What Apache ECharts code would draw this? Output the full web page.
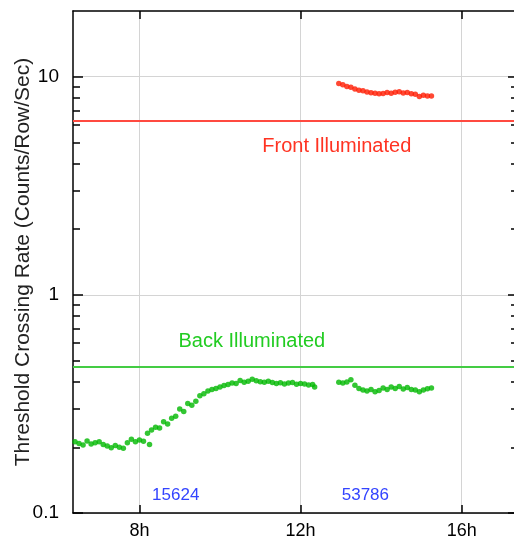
<!DOCTYPE html>
<html lang="en">
<head>
    <meta charset="UTF-8">
    <title>Threshold Crossing Rate</title>
    <script src="https://cdn.jsdelivr.net/npm/echarts@6.0.0/dist/echarts.min.js"></script>
</head>
<body style="margin:0;background:#fff;">
<div id="chart-container" style="width: 514px;height: 541px;"></div>
</body>
<script type="text/javascript">
    // morning run (back illuminated chip), hours of day
    var backTimes1 = [6.4, 6.5, 6.6, 6.7, 6.8, 6.9, 7.0, 7.1, 7.2, 7.3, 7.4, 7.5, 7.6, 7.7, 7.8, 7.9, 8.0, 8.1,
        8.2, 8.25, 8.3, 8.4, 8.5, 8.6, 8.7, 8.8, 8.9, 9.0, 9.1, 9.2, 9.3, 9.4, 9.5, 9.6, 9.7, 9.8, 9.9,
        10.0, 10.1, 10.2, 10.3, 10.4, 10.5, 10.6, 10.7, 10.8, 10.9, 11.0, 11.1, 11.2, 11.3, 11.4, 11.5,
        11.6, 11.7, 11.8, 11.9, 12.0, 12.1, 12.2, 12.3, 12.35];
    var backRates1 = [0.212, 0.208, 0.205, 0.214, 0.207, 0.210, 0.212, 0.206, 0.203, 0.199, 0.204, 0.200, 0.198, 0.210, 0.218, 0.212, 0.216, 0.213,
        0.232, 0.206, 0.240, 0.247, 0.245, 0.262, 0.256, 0.272, 0.278, 0.300, 0.292, 0.318, 0.312, 0.325, 0.345, 0.352, 0.362, 0.368, 0.372,
        0.378, 0.384, 0.388, 0.394, 0.392, 0.405, 0.398, 0.402, 0.410, 0.404, 0.400, 0.397, 0.402, 0.396, 0.392, 0.395,
        0.390, 0.394, 0.396, 0.389, 0.392, 0.390, 0.386, 0.388, 0.378];

    // afternoon run, both chips
    var lateTimes = [12.95, 13.05, 13.15, 13.25, 13.35, 13.45, 13.55, 13.65, 13.75, 13.85, 13.95, 14.05,
        14.15, 14.25, 14.35, 14.45, 14.55, 14.65, 14.75, 14.85, 14.95, 15.05, 15.15, 15.25];
    var backRates2 = [0.398, 0.394, 0.399, 0.408, 0.385, 0.372, 0.366, 0.362, 0.368, 0.360, 0.364, 0.374,
        0.368, 0.378, 0.372, 0.380, 0.370, 0.376, 0.368, 0.366, 0.360, 0.366, 0.371, 0.374];
    var frontRates = [9.30, 9.18, 9.02, 8.95, 8.78, 8.66, 8.62, 8.50, 8.44, 8.40, 8.34, 8.38,
        8.46, 8.40, 8.48, 8.52, 8.42, 8.46, 8.36, 8.30, 8.12, 8.22, 8.16, 8.16];

    // reference levels
    var frontLevel = 6.25;
    var backLevel = 0.47;

    var hourTicks = [8, 12, 16];
    var decadeTicks = [0.1, 1, 10];
    var minorTicks = [0.2, 0.3, 0.4, 0.5, 0.6, 0.7, 0.8, 0.9, 2, 3, 4, 5, 6, 7, 8, 9];

    function zip(xs, ys) {
        return xs.map(function (x, i) { return [x, ys[i]]; });
    }

    var container = document.getElementById('chart-container');
    var myChart = echarts.init(container);

    var font = 'Liberation Sans, Arial, sans-serif';
    var xMin = 6.35, xMax = 17.3, yMin = 0.1, yMax = 20;

    function note(text, x, y, color, size) {
        return {
            coord: [x, y],
            symbol: 'circle',
            symbolSize: 0,
            label: {
                show: true, position: 'inside', formatter: text,
                color: color, fontSize: size, fontFamily: font
            }
        };
    }

    var option = {
        animation: false,
        backgroundColor: '#fff',
        grid: {left: 73, right: 0, top: 11, bottom: 28},
        xAxis: [
            {
                type: 'value', min: xMin, max: xMax, position: 'bottom',
                axisLine: {show: true, onZero: false, lineStyle: {color: '#000', width: 1.5}},
                axisTick: {show: true, inside: true, length: 8, customValues: hourTicks,
                    lineStyle: {color: '#000', width: 1.5}},
                axisLabel: {customValues: hourTicks, formatter: '{value}h', color: '#000',
                    fontSize: 18, fontFamily: font, margin: 9},
                splitLine: {show: true, lineStyle: {color: '#d4d4d4', width: 1}}
            },
            {
                type: 'value', min: xMin, max: xMax, position: 'top',
                axisLine: {show: true, onZero: false, lineStyle: {color: '#000', width: 1.5}},
                axisTick: {show: true, inside: true, length: 8, customValues: hourTicks,
                    lineStyle: {color: '#000', width: 1.5}},
                axisLabel: {show: false},
                splitLine: {show: false}
            }
        ],
        yAxis: [
            {
                type: 'log', logBase: 10, min: yMin, max: yMax, position: 'left',
                name: 'Threshold Crossing Rate (Counts/Row/Sec)',
                nameLocation: 'middle', nameGap: 39, nameMoveOverlap: false,
                nameTextStyle: {color: '#222', fontSize: 21, fontFamily: font},
                axisLine: {show: true, onZero: false, lineStyle: {color: '#000', width: 1.5}},
                axisTick: {show: true, inside: true, length: 10, customValues: decadeTicks,
                    lineStyle: {color: '#000', width: 1.5}},
                axisLabel: {customValues: decadeTicks, color: '#000', fontSize: 19,
                    fontFamily: font, margin: 14},
                splitLine: {show: true, lineStyle: {color: '#d4d4d4', width: 1}}
            },
            {
                type: 'log', logBase: 10, min: yMin, max: yMax, position: 'left',
                axisLine: {show: false},
                axisTick: {show: true, inside: true, length: 7, customValues: minorTicks,
                    lineStyle: {color: '#000', width: 1.5}},
                axisLabel: {show: false},
                splitLine: {show: false}
            },
            {
                type: 'log', logBase: 10, min: yMin, max: yMax, position: 'right',
                axisLine: {show: false},
                axisTick: {show: true, inside: true, length: 6, customValues: decadeTicks,
                    lineStyle: {color: '#000', width: 1.5}},
                axisLabel: {show: false},
                splitLine: {show: false}
            },
            {
                type: 'log', logBase: 10, min: yMin, max: yMax, position: 'right',
                axisLine: {show: false},
                axisTick: {show: true, inside: true, length: 3, customValues: minorTicks,
                    lineStyle: {color: '#000', width: 1.5}},
                axisLabel: {show: false},
                splitLine: {show: false}
            }
        ],
        series: [
            {
                name: 'Front Illuminated', type: 'scatter',
                data: zip(lateTimes, frontRates),
                symbolSize: 5.5,
                itemStyle: {color: '#ff1a00'},
                markLine: {
                    silent: true, symbol: 'none', animation: false,
                    label: {show: false},
                    lineStyle: {color: '#ff4a40', width: 2, type: 'solid'},
                    data: [{yAxis: frontLevel}]
                },
                markPoint: {
                    silent: true,
                    data: [note('Front Illuminated', 12.9, 4.8, '#ff3322', 20)]
                }
            },
            {
                name: 'Back Illuminated', type: 'scatter',
                data: zip(backTimes1, backRates1),
                symbolSize: 5.5,
                itemStyle: {color: '#00b800'},
                markLine: {
                    silent: true, symbol: 'none', animation: false,
                    label: {show: false},
                    lineStyle: {color: '#44cc44', width: 2, type: 'solid'},
                    data: [{yAxis: backLevel}]
                },
                markPoint: {
                    silent: true,
                    data: [
                        note('Back Illuminated', 10.79, 0.61, '#22cc22', 20),
                        note('15624', 8.9, 0.12, '#3344ff', 17),
                        note('53786', 13.61, 0.12, '#3344ff', 17)
                    ]
                }
            },
            {
                name: 'Back Illuminated', type: 'scatter',
                data: zip(lateTimes, backRates2),
                symbolSize: 5.5,
                itemStyle: {color: '#00b800'}
            }
        ]
    };

    myChart.setOption(option);
</script>
</html>
